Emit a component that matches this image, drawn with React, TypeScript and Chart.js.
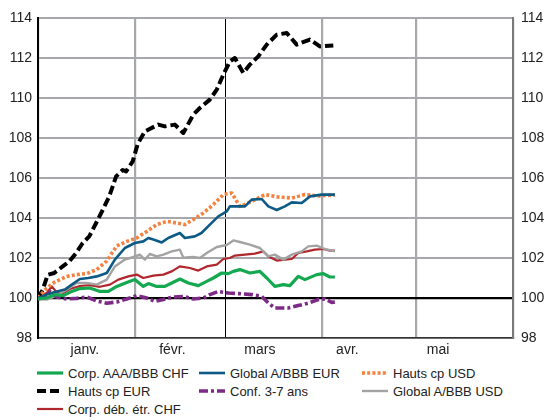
import React, { useEffect, useRef } from "react";
import { Chart, registerables } from "chart.js";

Chart.register(...registerables);

// x values: days since 1 January; y values: index (100 = start)
const monthNames = ["janv.", "févr.", "mars", "avr.", "mai"];
const monthBoundaries = [0, 31, 60, 91, 121, 152];
const monthLabelDays = [15, 43, 71, 99, 128];
const yTicks = [98, 100, 102, 104, 106, 108, 110, 112, 114];

const corpAAA: [number, number][] = [
  [0, 99.95], [2.8, 100.0], [5.4, 100.17], [8.1, 100.12], [10.8, 100.33], [13.4, 100.47],
  [16.6, 100.5], [19.8, 100.33], [22.5, 100.33], [25.2, 100.58], [28.4, 100.78], [31, 100.92],
  [33.7, 100.58], [35.3, 100.72], [38, 100.58], [40.6, 100.58], [42.8, 100.75], [45.4, 100.95],
  [48.1, 100.75], [51.3, 100.62], [54, 100.83], [56.1, 101.0], [58.8, 101.25], [60.9, 101.22],
  [62.5, 101.33], [64.6, 101.42], [67.8, 101.25], [71, 101.33], [73.2, 101.0], [75.8, 100.58],
  [78.5, 100.67], [80.6, 100.62], [83.3, 101.08], [85.4, 100.92], [89.2, 101.17], [91.3, 101.22],
  [93.4, 101.05], [95, 101.05],
];

const globalEUR: [number, number][] = [
  [0, 100], [2.8, 100.17], [6, 100.33], [8.6, 100.42], [10.8, 100.67], [13.4, 100.95],
  [16.1, 101.0], [18.8, 101.08], [22, 101.25], [24.6, 101.92], [27.8, 102.5], [31, 102.75],
  [33.7, 102.83], [35.3, 103.0], [36.9, 102.92], [39.6, 102.78], [41.7, 103.0], [45.4, 103.25],
  [47, 103.0], [50.2, 103.08], [52.3, 103.25], [55, 103.67], [57.7, 104.08], [60.4, 104.33],
  [61.4, 104.58], [63, 104.58], [66.2, 104.58], [68.4, 104.92], [71.6, 104.95], [73.7, 104.58],
  [76.4, 104.4], [79, 104.58], [81.2, 104.78], [84.4, 104.75], [87, 105.08], [90.8, 105.17],
  [95, 105.17],
];

const hautsUSD: [number, number][] = [
  [0, 100], [2.8, 100.5], [5.4, 100.8], [9.2, 101.08], [12.4, 101.17], [15.6, 101.22],
  [18.8, 101.42], [22, 101.85], [25.2, 102.6], [28.4, 102.83], [31.6, 103.0], [34.8, 103.33],
  [38, 103.67], [41.2, 103.83], [44.4, 103.75], [47, 103.67], [49.7, 103.92], [52.9, 104.25],
  [56.1, 104.67], [59.3, 105.17], [62, 105.25], [64.6, 104.58], [68.4, 104.83], [72.6, 105.17],
  [76.9, 105.05], [81.2, 105.0], [85.4, 105.17], [89.7, 105.1], [95, 105.15],
];

const hautsEUR: [number, number][] = [
  [0, 100.0], [1.5, 100.4], [3.1, 101.16], [5.2, 101.25], [7.9, 101.58], [10, 101.83],
  [12.2, 102.25], [14.3, 102.75], [16.4, 103.08], [18.6, 103.75], [20.7, 104.4], [22.8, 105.08],
  [25, 106.08], [27.1, 106.4], [28.2, 106.33], [30.3, 106.83], [31.9, 107.7], [34.2, 108.33],
  [38.5, 108.67], [40.6, 108.58], [43.8, 108.67], [46.5, 108.25], [49.7, 109.17], [51.8, 109.5],
  [55, 109.92], [57.2, 110.42], [59.3, 111.17], [61.4, 111.83], [63, 112.0], [65.7, 111.25],
  [67.8, 111.67], [70.5, 112.08], [73.2, 112.67], [76.4, 113.17], [79.6, 113.25], [82.8, 112.67],
  [87, 112.92], [90.2, 112.58], [94.5, 112.63],
];

const conf37: [number, number][] = [
  [0, 99.95], [2.5, 100.05], [4, 100.3], [6, 100.05], [9.2, 99.95], [12.4, 99.98],
  [15.6, 100.05], [18.8, 99.85], [22, 99.74], [25.2, 99.8], [28.4, 99.95], [31.6, 100.12],
  [34.8, 100.0], [37.4, 99.83], [40.1, 99.92], [43.3, 100.05], [46.5, 100.08], [49.7, 99.95],
  [52.9, 100.0], [55, 100.17], [57.7, 100.33], [60.9, 100.25], [64.1, 100.22], [68.4, 100.17],
  [71.6, 100.08], [73.7, 99.75], [75.8, 99.5], [80.1, 99.5], [83.3, 99.62], [86.5, 99.75],
  [89.7, 99.92], [91.8, 99.95], [94, 99.78], [95, 99.8],
];

const globalUSD: [number, number][] = [
  [0, 99.95], [2.8, 99.92], [5.4, 100.08], [9.2, 100.42], [12.4, 100.75], [15.6, 100.75],
  [18.8, 100.67], [22, 100.92], [24.6, 101.58], [27.8, 101.92], [30.5, 102.05], [32.6, 102.17],
  [34.2, 101.92], [35.8, 102.2], [38, 102.08], [40.1, 102.17], [42.8, 102.33], [45.4, 102.42],
  [46.5, 102.02], [49.7, 102.05], [51.8, 102.0], [54, 102.25], [57.2, 102.55], [60.4, 102.65],
  [62.5, 102.88], [64.6, 102.8], [67.8, 102.67], [71, 102.5], [73.7, 102.08], [75.8, 102.17],
  [78.5, 101.92], [81.2, 102.17], [84.4, 102.33], [86.5, 102.58], [89.2, 102.62], [91.8, 102.45],
  [95, 102.33],
];

const corpEtr: [number, number][] = [
  [0, 100.08], [2.8, 100.25], [4.4, 100.58], [6, 100.28], [8.1, 100.25], [10.2, 100.45],
  [13.4, 100.6], [16.6, 100.64], [19.8, 100.56], [23, 100.67], [25.7, 100.92], [28.9, 101.08],
  [31.6, 101.17], [33.7, 101.0], [36.9, 101.12], [40.1, 101.17], [42.8, 101.33], [45.4, 101.58],
  [48.6, 101.5], [51.3, 101.37], [54, 101.58], [57.2, 101.67], [59.3, 101.95], [61.4, 102.0],
  [63, 102.12], [66.2, 102.17], [69.4, 102.22], [72.1, 102.33], [73.7, 102.08], [76.4, 101.87],
  [79, 101.92], [81.2, 101.95], [83.3, 102.25], [86, 102.33], [88.6, 102.42], [91.3, 102.45],
  [93.4, 102.37], [95, 102.37],
];

type Series = {
  label: string;
  data: [number, number][];
  color: string;
  width: number;
  dash: number[];
};

const series: Series[] = [
  { label: "Corp. AAA/BBB CHF", data: corpAAA, color: "#14a850", width: 3.2, dash: [] },
  { label: "Global A/BBB EUR", data: globalEUR, color: "#0d5a85", width: 2.6, dash: [] },
  { label: "Hauts cp USD", data: hautsUSD, color: "#f5813e", width: 3.6, dash: [3, 2.2] },
  { label: "Hauts cp EUR", data: hautsEUR, color: "#000000", width: 4, dash: [9, 4] },
  { label: "Conf. 3-7 ans", data: conf37, color: "#7d2a86", width: 3.6, dash: [9, 3, 3, 3] },
  { label: "Global A/BBB USD", data: globalUSD, color: "#a3a3a3", width: 2.4, dash: [] },
  { label: "Corp. déb. étr. CHF", data: corpEtr, color: "#b0272d", width: 2.2, dash: [] },
];

const FONT = "'Liberation Sans', Arial, Helvetica, sans-serif";

function LegendItem({ s }: { s: Series }) {
  return (
    <div style={{ display: "flex", alignItems: "center", height: 18, whiteSpace: "nowrap" }}>
      <svg width={26} height={8} style={{ marginRight: 5, flex: "none" }}>
        <line
          x1={0}
          y1={4}
          x2={26}
          y2={4}
          stroke={s.color}
          strokeWidth={s.width}
          strokeDasharray={s.dash.length ? s.dash.join(" ") : undefined}
        />
      </svg>
      <span>{s.label}</span>
    </div>
  );
}

export default function App() {
  const ref = useRef<HTMLCanvasElement | null>(null);

  useEffect(() => {
    if (!ref.current) return;
    const labelMap = new Map<number, string>();
    monthLabelDays.forEach((d, i) => labelMap.set(d, monthNames[i]));
    const boundarySet = new Set(monthBoundaries);
    const xTickValues = [...monthBoundaries, ...monthLabelDays].sort((a, b) => a - b);

    const chart = new Chart(ref.current, {
      type: "line",
      data: {
        datasets: series.map((s) => ({
          label: s.label,
          data: s.data.map(([x, y]) => ({ x, y })),
          borderColor: s.color,
          backgroundColor: s.color,
          borderWidth: s.width,
          borderDash: s.dash,
          borderCapStyle: "butt" as const,
          borderJoinStyle: "round" as const,
          pointRadius: 0,
          tension: 0,
          fill: false,
        })),
      },
      options: {
        animation: false,
        responsive: false,
        maintainAspectRatio: false,
        layout: { padding: { top: 18, left: 0, right: 0, bottom: 0 } },
        plugins: { legend: { display: false }, tooltip: { enabled: false } },
        scales: {
          x: {
            type: "linear",
            min: monthBoundaries[0],
            max: monthBoundaries[monthBoundaries.length - 1],
            afterBuildTicks: (scale: any) => {
              scale.ticks = xTickValues.map((v) => ({ value: v }));
            },
            afterFit: (scale: any) => {
              scale.height = 22;
            },
            ticks: {
              autoSkip: false,
              maxRotation: 0,
              minRotation: 0,
              padding: 4,
              color: "#222",
              font: { family: FONT, size: 14 },
              callback: (v: any) => labelMap.get(Number(v)) ?? "",
            },
            grid: {
              drawTicks: false,
              color: (ctx: any) => {
                const v = ctx.tick?.value;
                if (!boundarySet.has(v)) return "rgba(0,0,0,0)";
                return v === 60 ? "#000000" : "#a6a8ab";
              },
              lineWidth: (ctx: any) => (ctx.tick?.value === 60 ? 1 : 2.2),
            },
            border: { display: true, color: "#333", width: 1.5 },
          },
          y: {
            position: "left",
            min: 98,
            max: 114,
            afterBuildTicks: (scale: any) => {
              scale.ticks = yTicks.map((v) => ({ value: v }));
            },
            afterFit: (scale: any) => {
              scale.width = 38;
            },
            ticks: {
              padding: 6,
              color: "#222",
              font: { family: FONT, size: 14 },
            },
            grid: {
              drawTicks: false,
              color: (ctx: any) => (ctx.tick?.value === 100 ? "#000000" : "#a6a8ab"),
              lineWidth: (ctx: any) => (ctx.tick?.value === 100 ? 2.2 : 2),
            },
            border: { display: true, color: "#000", width: 2 },
          },
          y2: {
            position: "right",
            min: 98,
            max: 114,
            afterBuildTicks: (scale: any) => {
              scale.ticks = yTicks.map((v) => ({ value: v }));
            },
            afterFit: (scale: any) => {
              scale.width = 46;
            },
            ticks: {
              padding: 8,
              color: "#222",
              font: { family: FONT, size: 14 },
            },
            grid: { display: false, drawTicks: false },
            border: { display: true, color: "#7a7a7a", width: 2 },
          },
        },
      },
    } as any);

    return () => chart.destroy();
  }, []);

  return (
    <div
      style={{
        position: "fixed",
        left: 0,
        top: 0,
        width: 559,
        height: 420,
        background: "#fff",
        overflow: "hidden",
        fontFamily: FONT,
      }}
    >
      <canvas ref={ref} width={559} height={360} style={{ display: "block", width: 559, height: 360 }} />
      <div
        style={{
          position: "absolute",
          left: 37,
          top: 364,
          display: "grid",
          gridTemplateColumns: "162px 163px auto",
          fontSize: 13,
          color: "#222",
        }}
      >
        {series.map((s) => (
          <LegendItem key={s.label} s={s} />
        ))}
      </div>
    </div>
  );
}
